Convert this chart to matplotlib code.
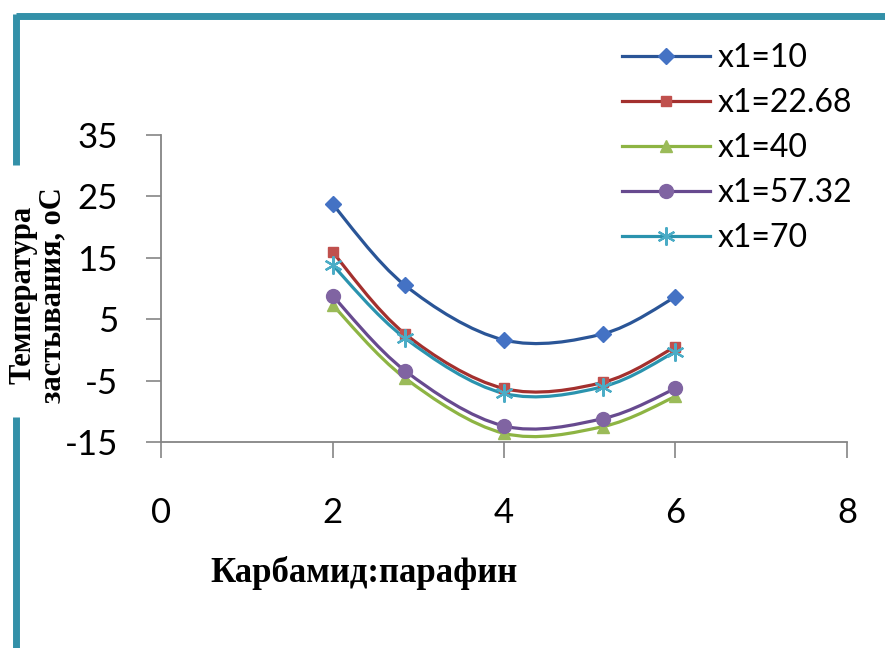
import matplotlib
matplotlib.use('Agg')
import matplotlib.pyplot as plt
from matplotlib.path import Path
from matplotlib.patches import PathPatch
from matplotlib.lines import Line2D

# data
ratio = [2, 2.845, 4, 5.155, 6]
labels = ['x1=10', 'x1=22.68', 'x1=40', 'x1=57.32', 'x1=70']
temp_10 = [23.7, 10.5, 1.6, 2.6, 8.6]
temp_22 = [15.9, 2.6, -6.3, -5.3, 0.5]
temp_40 = [7.3, -4.6, -13.6, -12.5, -7.6]
temp_57 = [8.8, -3.4, -12.4, -11.2, -6.3]
temp_70 = [13.8, 1.9, -7.1, -6.0, -0.3]
series = [temp_10, temp_22, temp_40, temp_57, temp_70]

line_colors = ['#2A5597', '#A3302E', '#8DB443', '#674A8F', '#2A93AE']
marker_colors = ['#4472C4', '#C0504D', '#9BBB59', '#8064A2', '#4BACC6']
markers = ['D', 's', '^', 'o', (6, 2, 0)]
msizes = [8, 7, 9, 10, 13]

plt.rcParams['font.family'] = ['Lato', 'DejaVu Sans']
plt.rcParams['axes.unicode_minus'] = False


def smooth_path(xs, ys):
    # Catmull-Rom style bezier, similar to Excel "smoothed line"
    pts = list(zip(xs, ys))
    verts = [pts[0]]
    codes = [Path.MOVETO]
    n = len(pts)
    for i in range(n - 1):
        p0 = pts[i - 1] if i > 0 else pts[i]
        p1 = pts[i]
        p2 = pts[i + 1]
        p3 = pts[i + 2] if i + 2 < n else pts[i + 1]
        c1 = (p1[0] + (p2[0] - p0[0]) / 6, p1[1] + (p2[1] - p0[1]) / 6)
        c2 = (p2[0] - (p3[0] - p1[0]) / 6, p2[1] - (p3[1] - p1[1]) / 6)
        verts += [c1, c2, p2]
        codes += [Path.CURVE4] * 3
    return Path(verts, codes)


fig = plt.figure(figsize=(8.85, 6.48), dpi=100)
ax = fig.add_axes([0.182, 0.318, 0.775, 0.474])

handles = []
for ys, lc, mc, mk, ms, lab in zip(series, line_colors, marker_colors, markers, msizes, labels):
    patch = PathPatch(smooth_path(ratio, ys), facecolor='none', edgecolor=lc, lw=2.3)
    ax.add_patch(patch)
    if mk == (6, 2, 0):
        ax.plot(ratio, ys, linestyle='none', marker=mk, markersize=ms,
                markeredgecolor=mc, markeredgewidth=1.6)
        h = Line2D([], [], color=lc, lw=2.3, marker=mk, markersize=ms,
                   markeredgecolor=mc, markeredgewidth=1.6)
    else:
        ax.plot(ratio, ys, linestyle='none', marker=mk, markersize=ms,
                markerfacecolor=mc, markeredgecolor=mc)
        h = Line2D([], [], color=lc, lw=2.3, marker=mk, markersize=ms,
                   markerfacecolor=mc, markeredgecolor=mc)
    handles.append(h)

ax.set_xlim(0, 8)
ax.set_ylim(-15, 35)
ax.set_xticks([0, 2, 4, 6, 8])
ax.set_yticks([-15, -5, 5, 15, 25, 35])

for s in ['top', 'right']:
    ax.spines[s].set_visible(False)
for s in ['left', 'bottom']:
    ax.spines[s].set_color('#858585')
    ax.spines[s].set_linewidth(1.3)

ax.tick_params(axis='y', direction='out', length=11, width=1.2, color='#858585',
               pad=20, labelsize=25)
ax.tick_params(axis='x', direction='out', length=11.5, width=1.2, color='#858585',
               pad=28, labelsize=25)

fig.text(0.411, 0.116, 'Карбамид:парафин', family='Liberation Serif',
         weight='bold', fontsize=25, ha='center', va='center')
fig.text(0.043, 0.545, 'Температура\nзастывания, oC', family='Liberation Serif',
         weight='bold', fontsize=22, rotation=90, ha='center', va='center',
         linespacing=1.05)

fig.legend(handles, labels, loc='upper left', bbox_to_anchor=(0.688, 0.953),
           frameon=False, fontsize=23, handlelength=2.75, handletextpad=0.25,
           labelspacing=0.47, borderaxespad=0)

# teal frame edges
teal = '#3390A8'
fig.add_artist(Line2D([0.018, 1.0], [0.975, 0.975], color=teal, lw=5,
                      transform=fig.transFigure, solid_capstyle='butt'))
fig.add_artist(Line2D([0.018, 0.018], [0.979, 0.745], color=teal, lw=5,
                      transform=fig.transFigure, solid_capstyle='butt'))
fig.add_artist(Line2D([0.018, 0.018], [0.357, 0.0], color=teal, lw=5,
                      transform=fig.transFigure, solid_capstyle='butt'))

fig.savefig('out.png', dpi=100, facecolor='white')
